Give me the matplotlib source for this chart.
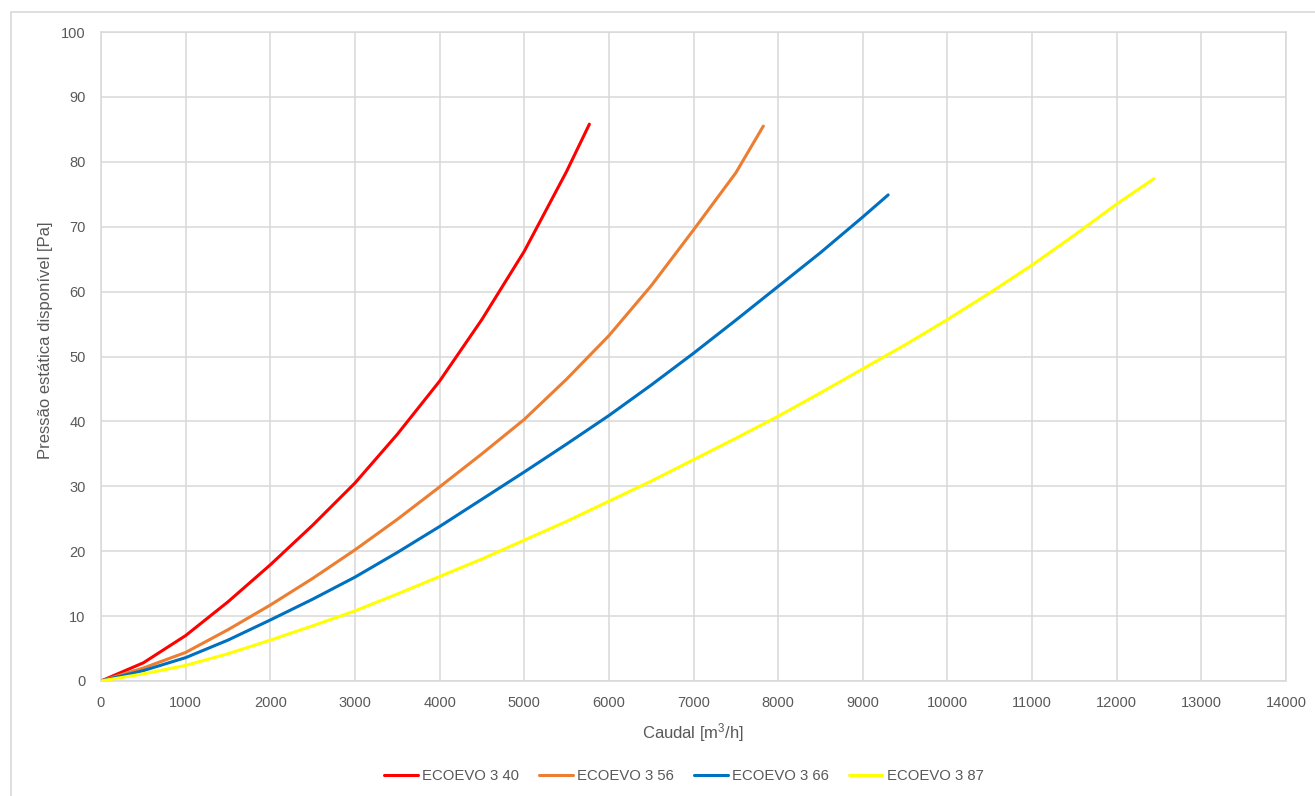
import matplotlib
matplotlib.use("Agg")
import matplotlib.pyplot as plt
from matplotlib.patches import Rectangle

plt.rcParams['font.family'] = ['Liberation Sans', 'DejaVu Sans']
plt.rcParams['mathtext.default'] = 'regular'

# flow [m3/h] and available static pressure [Pa]
x_40 = [0, 500, 1000, 1500, 2000, 2500, 3000, 3500, 4000, 4500, 5000, 5500, 5770]
y_40 = [0, 2.8, 7.0, 12.2, 17.9, 24.0, 30.5, 38.0, 46.2, 55.7, 66.2, 78.5, 85.8]

x_56 = [0, 500, 1000, 1500, 2000, 2500, 3000, 3500, 4000, 4500, 5000, 5500, 6000,
        6500, 7000, 7500, 7825]
y_56 = [0, 2.0, 4.4, 7.9, 11.7, 15.8, 20.2, 24.9, 29.9, 35.0, 40.3, 46.5, 53.2,
        60.9, 69.5, 78.3, 85.5]

x_66 = [0, 500, 1000, 1500, 2000, 2500, 3000, 3500, 4000, 4500, 5000, 5500, 6000,
        6500, 7000, 7500, 8000, 8500, 9000, 9300]
y_66 = [0, 1.6, 3.6, 6.3, 9.4, 12.6, 16.0, 19.8, 23.8, 28.0, 32.2, 36.5, 40.9,
        45.6, 50.5, 55.6, 60.8, 66.0, 71.5, 74.9]

x_87 = [0, 500, 1000, 1500, 2000, 2500, 3000, 3500, 4000, 4500, 5000, 5500, 6000,
        6500, 7000, 7500, 8000, 8500, 9000, 9500, 10000, 10500, 11000, 11500,
        12000, 12440]
y_87 = [0, 1.1, 2.4, 4.2, 6.3, 8.5, 10.8, 13.4, 16.1, 18.8, 21.7, 24.6, 27.7,
        30.8, 34.1, 37.4, 40.8, 44.4, 48.1, 51.8, 55.7, 59.8, 64.1, 68.7,
        73.5, 77.4]

labels = ["ECOEVO 3 40", "ECOEVO 3 56", "ECOEVO 3 66", "ECOEVO 3 87"]
colors = ["#ff0000", "#ed7d31", "#0070c0", "#ffff00"]

fig = plt.figure(figsize=(13.15, 7.96), dpi=100)
ax = fig.add_axes([101/1315, 1 - 681/796, (1286 - 101)/1315, (681 - 32)/796])

# outer chart border (clipped by the image edge on right/bottom)
fig.patches.append(Rectangle((11/1315, -0.5), 2, 1 - 12/796 + 0.5,
                             transform=fig.transFigure, fill=False,
                             edgecolor="#d9d9d9", lw=1.2))

for xs, ys, lab, c in zip([x_40, x_56, x_66, x_87], [y_40, y_56, y_66, y_87], labels, colors):
    ax.plot(xs, ys, color=c, lw=2.2, label=lab, solid_capstyle='round',
            solid_joinstyle='round', zorder=3)

ax.set_xlim(0, 14000)
ax.set_ylim(0, 100)
ax.set_xticks(range(0, 14001, 1000))
ax.set_yticks(range(0, 101, 10))
ax.grid(True, color="#d9d9d9", lw=1.1)
ax.set_axisbelow(True)
for s in ax.spines.values():
    s.set_color("#d9d9d9")
    s.set_linewidth(1.1)
ax.tick_params(length=0, labelsize=10.5, labelcolor="#595959", pad=11)

ax.set_xlabel("Caudal [m$^3$/h]", fontsize=12, color="#595959", labelpad=8)
ax.set_ylabel("Pressão estática disponível [Pa]", fontsize=12, color="#595959")
ax.yaxis.set_label_coords((53 - 101)/1185, 0.525)

fig.legend(loc="center", bbox_to_anchor=(684/1315, 1 - 776/796), ncol=4, frameon=False,
           fontsize=10.7, labelcolor="#595959", handlelength=2.25, handletextpad=0.3,
           columnspacing=1.35)

fig.savefig("out.png", dpi=100)
